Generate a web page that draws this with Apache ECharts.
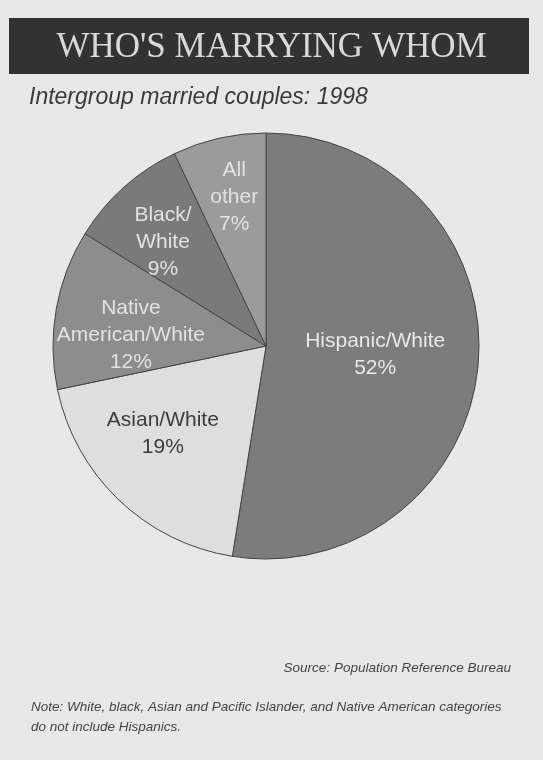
<!DOCTYPE html>
<html>
<head>
<meta charset="utf-8">
<style>
  html, body { margin: 0; padding: 0; background: #e8e8e8; }
  #chart { width: 543px; height: 760px; }
</style>
<script src="https://cdn.jsdelivr.net/npm/echarts@6/dist/echarts.min.js"></script>
</head>
<body>
<div id="chart"></div>
<script>
  // data
  const categories = ['Hispanic/White', 'Asian/White', 'Native American/White', 'Black/White', 'All other'];
  const labelTexts = ['Hispanic/White', 'Asian/White', 'Native\nAmerican/White', 'Black/\nWhite', 'All\nother'];
  const values = [52, 19, 12, 9, 7];

  const colors = ['#7c7c7c', '#dedede', '#8d8d8d', '#7a7a7a', '#9b9b9b'];
  const labelColors = ['#e8e8e8', '#3c3c3c', '#e2e2e2', '#e2e2e2', '#e2e2e2'];
  // where each label sits: share of the radius, and a small turn (degrees) off the slice middle
  const labelRadius = [0.5, 0.623, 0.622, 0.674, 0.70];
  const labelTurn = [0, 6, -5.7, -2.9, 0.7];

  const R = 213;
  const total = values.reduce((a, b) => a + b, 0);
  let acc = 0;
  const midAngles = values.map(v => {
    const mid = (acc + v / 2) / total * Math.PI * 2;
    acc += v;
    return mid;
  });

  let chart = echarts.init(document.getElementById('chart'));
  let option = {
    backgroundColor: '#e8e8e8',
    graphic: [{
      type: 'rect',
      shape: { x: 9, y: 18, width: 520, height: 56 },
      style: { fill: '#323232' },
      z: -1
    }],
    title: [
      {
        text: "WHO'S MARRYING WHOM",
        left: 'center',
        top: 30,
        padding: 0,
        textStyle: { fontFamily: 'Liberation Serif', fontSize: 35, fontWeight: 'normal', color: '#d9d9d9' }
      },
      {
        text: 'Intergroup married couples: 1998',
        left: 29,
        top: 86,
        padding: 0,
        textStyle: { fontFamily: 'Liberation Sans', fontSize: 23, fontStyle: 'italic', fontWeight: 'normal', color: '#3a3a3a' }
      },
      {
        text: 'Source: Population Reference Bureau',
        right: 32,
        top: 661,
        padding: 0,
        textStyle: { fontFamily: 'Liberation Sans', fontSize: 13.5, fontStyle: 'italic', fontWeight: 'normal', color: '#444' }
      },
      {
        text: 'Note: White, black, Asian and Pacific Islander, and Native American categories\ndo not include Hispanics.',
        left: 31,
        top: 697,
        padding: 0,
        textStyle: { fontFamily: 'Liberation Sans', fontSize: 13.5, lineHeight: 20, fontStyle: 'italic', fontWeight: 'normal', color: '#444' }
      }
    ],
    series: [{
      type: 'pie',
      center: [266, 346],
      radius: [0, R],
      startAngle: 90,
      clockwise: true,
      avoidLabelOverlap: false,
      animation: false,
      silent: true,
      itemStyle: { borderColor: '#444', borderWidth: 1 },
      labelLine: { show: false },
      label: {
        show: true,
        position: 'inside',
        fontFamily: 'Liberation Sans',
        fontSize: 21,
        lineHeight: 27,
        align: 'center'
      },
      labelLayout: function (p) {
        const i = p.dataIndex;
        const a0 = midAngles[i];
        const a1 = a0 + labelTurn[i] * Math.PI / 180;
        const r0 = 0.5 * R, r1 = labelRadius[i] * R;
        return {
          dx: r1 * Math.sin(a1) - r0 * Math.sin(a0),
          dy: -r1 * Math.cos(a1) + r0 * Math.cos(a0)
        };
      },
      data: categories.map((c, i) => ({
        name: c,
        value: values[i],
        itemStyle: { color: colors[i] },
        label: {
          color: labelColors[i],
          formatter: labelTexts[i] + '\n' + values[i] + '%'
        }
      }))
    }]
  };
  chart.setOption(option);
  window.addEventListener('resize', function () {
    chart.resize();
  });
</script>
</body>
</html>
